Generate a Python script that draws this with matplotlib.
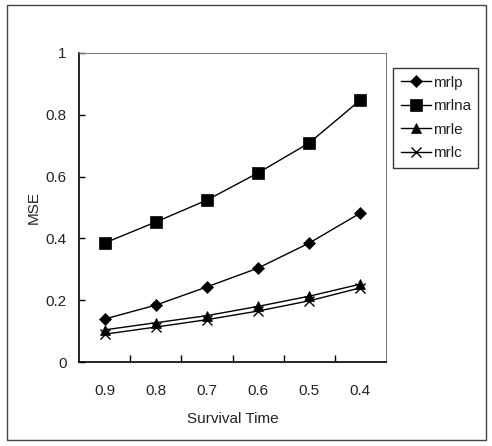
import matplotlib

matplotlib.use("Agg")
import matplotlib.pyplot as plt
from matplotlib.patches import Rectangle
from matplotlib.ticker import FixedLocator, NullFormatter, FixedFormatter

plt.rcParams["font.family"] = ["Liberation Sans", "DejaVu Sans"]

# data
survival = ["0.9", "0.8", "0.7", "0.6", "0.5", "0.4"]
mrlp = [0.139, 0.184, 0.243, 0.304, 0.385, 0.482]
mrlna = [0.385, 0.453, 0.524, 0.612, 0.709, 0.848]
mrle = [0.104, 0.127, 0.150, 0.180, 0.213, 0.252]
mrlc = [0.090, 0.113, 0.137, 0.165, 0.198, 0.240]

fig = plt.figure(figsize=(4.92, 4.46), dpi=100)
ax = fig.add_axes([79 / 492, 84 / 446, 307 / 492, 309 / 446])

# border round the whole picture
fig.patches.append(
    Rectangle((7 / 492, 6 / 446), 479 / 492, 435 / 446, transform=fig.transFigure,
              fill=False, edgecolor="#444444", lw=1.0)
)

x = range(len(survival))
series = [
    ("mrlp", mrlp, "D", 6),
    ("mrlna", mrlna, "s", 8),
    ("mrle", mrle, "^", 7),
    ("mrlc", mrlc, "x", 7),
]
for name, vals, mk, ms in series:
    ax.plot(x, vals, color="black", lw=1.0, marker=mk, markersize=ms,
            markeredgewidth=1.0 if mk == "x" else 0.5, label=name)

ax.set_xlim(-0.5, len(survival) - 0.5)
ax.set_ylim(0, 1)
ax.set_yticks([0, 0.2, 0.4, 0.6, 0.8, 1.0])
ax.set_yticklabels(["0", "0.2", "0.4", "0.6", "0.8", "1"])

# category axis: tick marks between categories, labels at the centres
ax.xaxis.set_major_locator(FixedLocator([i + 0.5 for i in range(len(survival) - 1)]))
ax.xaxis.set_major_formatter(NullFormatter())
ax.xaxis.set_minor_locator(FixedLocator(list(x)))
ax.xaxis.set_minor_formatter(FixedFormatter(survival))
ax.tick_params(axis="x", which="major", direction="in", length=5, width=1)
ax.tick_params(axis="x", which="minor", length=0, pad=16, labelsize=11, labelcolor="#222222")
ax.tick_params(axis="y", direction="in", length=4, width=1, pad=9, labelsize=11,
               labelcolor="#222222")

for side in ("top", "right"):
    ax.spines[side].set_color("#808080")
for side in ("left", "bottom"):
    ax.spines[side].set_color("black")
    ax.spines[side].set_linewidth(1.2)

ax.set_xlabel("Survival Time", fontsize=11, color="#222222", labelpad=10)
ax.set_ylabel("MSE", fontsize=11, color="#222222", labelpad=3)

leg = ax.legend(loc="upper left", bbox_to_anchor=(393 / 492, 1 - 68 / 446),
                bbox_transform=fig.transFigure, fontsize=11, frameon=True, fancybox=False,
                edgecolor="black", borderpad=0.5, handlelength=2.0, handletextpad=0.1,
                labelspacing=0.62, borderaxespad=0)
for t in leg.get_texts():
    t.set_color("#222222")

fig.savefig("out.png", dpi=100)
